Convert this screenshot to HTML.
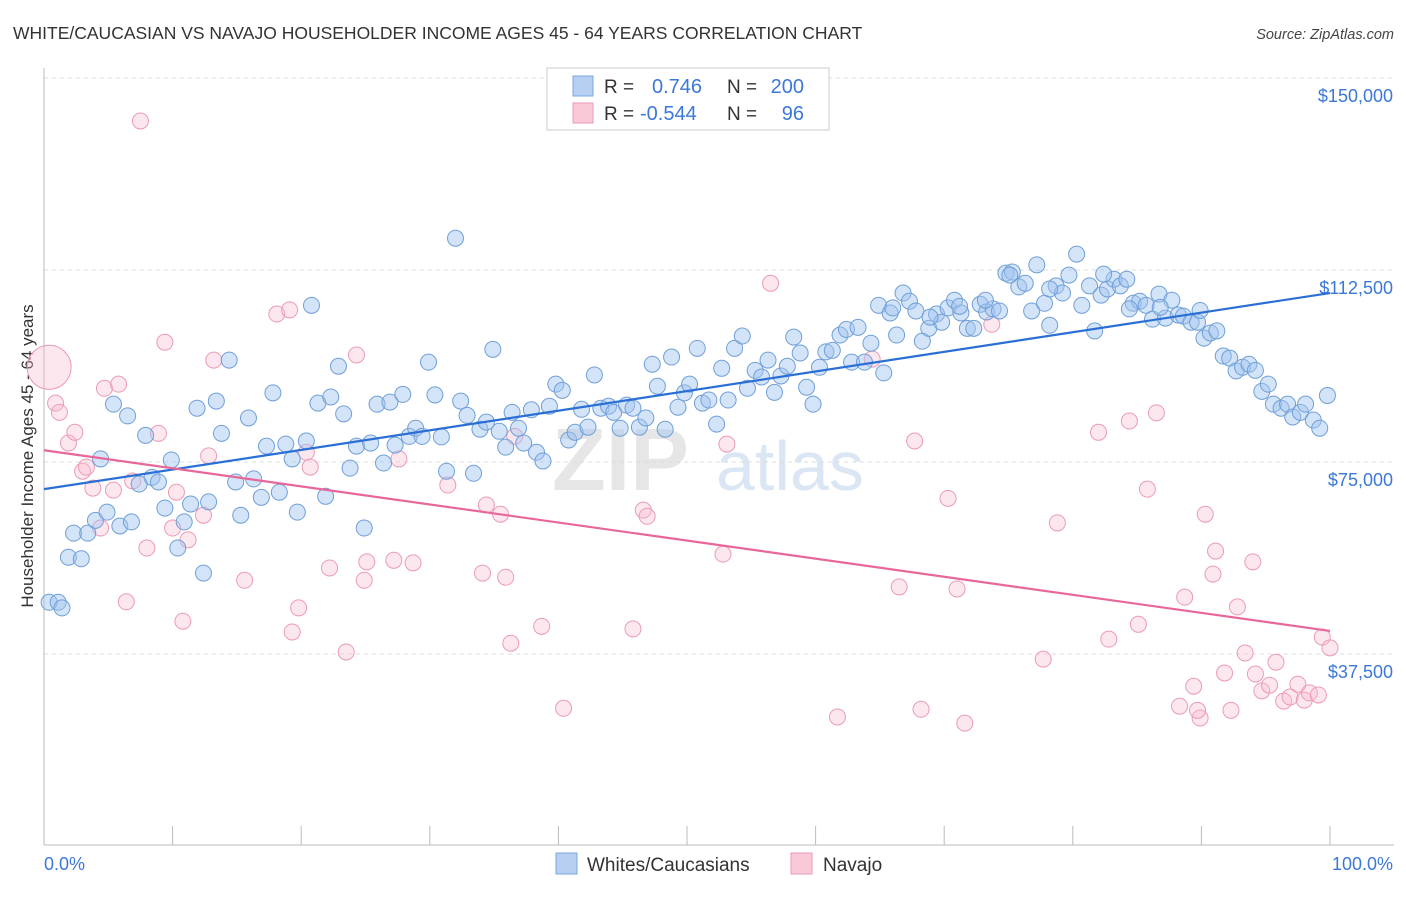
<!DOCTYPE html>
<html><head><meta charset="utf-8">
<style>
body{margin:0;background:#fff;font-family:"Liberation Sans",sans-serif;}
svg text{font-family:"Liberation Sans",sans-serif;}
</style></head>
<body>
<svg id="chart" width="1406" height="892" viewBox="0 0 1406 892" xmlns="http://www.w3.org/2000/svg">
<text x="13" y="39" font-size="17.5" fill="#333">WHITE/CAUCASIAN VS NAVAJO HOUSEHOLDER INCOME AGES 45 - 64 YEARS CORRELATION CHART</text>
<text x="1394" y="39" font-size="14.5" fill="#444" font-style="italic" text-anchor="end">Source: ZipAtlas.com</text>
<text x="552" y="490" font-size="88" fill="#e6e6e6" font-family="Liberation Serif" font-weight="bold">ZIP</text>
<text x="716" y="490" font-size="70" fill="#dbe6f4">atlas</text>
<g id="grid"></g>
<g id="axes"></g>
<text transform="translate(33,456) rotate(-90)" font-size="17" fill="#333" text-anchor="middle">Householder Income Ages 45 - 64 years</text>
<g id="pinkPts"></g>
<g id="bluePts"></g>
<g id="lines"></g>
<g>
<rect x="547" y="68" width="282" height="62" fill="#fff" stroke="#ccc"/>
<rect x="573" y="76" width="20" height="20" fill="#b7d0f2" stroke="#7aa6dc"/>
<rect x="573" y="103" width="20" height="20" fill="#f9c9d8" stroke="#ec9ab8"/>
<text x="604" y="93" font-size="19" fill="#333">R = </text>
<text x="652" y="93" font-size="20" fill="#3b78d8">0.746</text>
<text x="727" y="93" font-size="19" fill="#333">N =</text>
<text x="804" y="93" font-size="20" fill="#3b78d8" text-anchor="end">200</text>
<text x="604" y="120" font-size="19" fill="#333">R =</text>
<text x="640" y="120" font-size="20" fill="#3b78d8">-0.544</text>
<text x="727" y="120" font-size="19" fill="#333">N =</text>
<text x="804" y="120" font-size="20" fill="#3b78d8" text-anchor="end">96</text>
</g>
<g>
<rect x="556" y="853" width="21" height="21" fill="#b7d0f2" stroke="#7aa6dc"/>
<text x="587" y="871" font-size="19" fill="#333">Whites/Caucasians</text>
<rect x="791" y="853" width="21" height="21" fill="#f9c9d8" stroke="#ec9ab8"/>
<text x="823" y="871" font-size="19" fill="#333">Navajo</text>
</g>
</svg>
<script>
const yTicks=[37500,75000,112500,150000];
const yTickLabels=["$37,500","$75,000","$112,500","$150,000"];
const xTicks=[0,10,20,30,40,50,60,70,80,90,100];
const xTickLabels=["0.0%","100.0%"];
const blueX=[0.4,1.1,1.4,1.9,2.3,2.9,3.4,4.0,4.4,4.9,5.4,5.9,6.5,6.8,7.4,7.9,8.4,8.9,9.4,9.9,10.4,10.9,11.4,11.9,12.4,12.8,13.4,13.8,14.4,14.9,15.3,15.9,16.3,16.9,17.3,17.8,18.3,18.8,19.3,19.7,20.4,20.8,21.3,21.9,22.3,22.9,23.3,23.8,24.3,24.9,25.4,25.9,26.4,26.9,27.3,27.9,28.4,28.9,29.4,29.9,30.4,30.9,31.3,32.0,32.4,32.9,33.4,33.9,34.4,34.9,35.4,35.9,36.4,36.9,37.3,37.9,38.3,38.8,39.3,39.8,40.3,40.8,41.3,41.8,42.3,42.8,43.3,43.9,44.3,44.8,45.3,45.8,46.3,46.8,47.3,47.7,48.3,48.8,49.3,49.8,50.2,50.8,51.2,51.7,52.3,52.7,53.2,53.7,54.3,54.7,55.3,55.8,56.3,56.8,57.3,57.8,58.3,58.8,59.3,59.8,60.3,60.8,61.3,61.9,62.4,62.8,63.3,63.8,64.3,64.9,65.3,65.8,66.3,66.8,67.3,67.8,68.3,68.8,69.4,69.8,70.3,70.8,71.3,71.8,72.3,72.8,73.3,73.8,74.3,74.8,75.3,75.8,76.3,76.8,77.2,77.8,78.2,78.7,79.2,79.7,80.3,80.7,81.3,81.7,82.2,82.7,83.2,83.7,84.2,84.7,85.2,85.7,86.2,86.7,87.2,87.7,88.2,88.6,89.2,89.7,90.2,90.7,91.2,91.7,92.2,92.7,93.2,93.7,94.2,94.7,95.2,95.6,96.2,96.7,97.1,97.7,98.1,98.7,99.2,99.8,89.9,86.8,84.4,82.4,78.2,75.1,73.2,71.2,68.9,66.0];
const blueY=[47.6,47.6,46.5,56.4,61.1,56.1,61.1,63.6,75.6,65.2,86.3,62.5,84.0,63.3,70.7,80.2,72.0,71.1,66.0,75.4,58.2,63.3,66.8,85.5,53.3,67.2,86.9,80.6,94.9,71.1,64.6,83.6,71.7,68.1,78.1,88.5,69.1,78.5,75.6,65.2,79.1,105.6,86.5,68.3,87.7,93.7,84.4,73.8,78.1,62.1,78.7,86.3,74.8,86.7,78.3,88.2,80.0,81.6,80.0,94.5,88.1,79.9,73.2,118.7,86.9,84.1,72.8,81.4,82.8,97.0,81.0,77.9,84.7,81.6,78.7,85.2,76.9,75.2,85.9,90.2,89.0,79.3,80.8,85.3,81.8,92.0,85.5,85.9,84.7,81.6,86.1,85.5,81.8,83.6,94.1,89.8,81.4,95.5,85.7,88.5,90.2,97.2,86.5,87.1,82.4,93.3,87.1,97.2,99.6,89.4,92.9,91.6,94.9,88.6,91.8,93.7,99.4,96.3,89.6,86.3,93.5,96.5,96.8,99.8,100.9,94.5,101.3,94.5,98.2,105.6,92.4,104.1,99.8,108.0,106.4,104.5,98.6,101.1,103.9,102.3,105.1,106.6,104.1,101.1,101.1,105.8,104.3,104.9,104.5,111.9,112.1,109.2,109.9,104.5,113.5,106.0,101.7,109.4,108.0,111.5,115.6,105.6,109.4,100.6,107.6,108.8,110.7,109.4,110.7,106.0,106.4,105.6,102.9,107.8,103.1,106.6,103.7,103.5,102.3,102.3,99.2,100.2,100.6,95.7,95.3,92.8,93.5,94.1,92.9,88.8,90.2,86.3,85.5,86.3,83.8,84.7,86.3,83.2,81.6,88.0,104.6,105.2,104.9,111.7,108.8,111.5,106.6,105.4,103.3,105.1];
const pinkX=[0.4,0.9,1.2,1.9,2.4,3.0,3.3,3.8,4.4,4.7,5.4,5.8,6.4,6.9,7.5,8.0,8.9,9.4,10.0,10.3,10.8,11.2,12.4,12.8,13.2,15.6,18.1,19.1,19.3,19.8,20.4,20.7,22.2,23.5,24.3,24.9,25.1,27.2,27.6,28.7,31.4,34.1,34.4,35.5,35.9,36.3,36.6,38.7,40.4,45.8,46.6,46.9,52.8,53.1,56.5,61.7,64.4,66.5,67.7,68.2,70.3,71.0,71.6,73.7,77.7,78.8,82.0,82.8,84.4,85.1,85.8,86.5,88.3,88.7,89.4,89.9,90.3,90.9,91.1,91.8,92.3,92.8,93.4,94.0,94.2,94.7,95.3,95.8,96.4,96.9,97.5,98.0,98.4,99.1,99.4,100.0,89.7];
const pinkY=[93.5,86.5,84.7,78.7,80.8,73.2,74.0,69.9,62.1,89.4,69.5,90.2,47.7,71.3,141.6,58.2,80.6,98.4,62.1,69.1,43.9,59.8,64.6,76.2,94.9,51.9,103.9,104.7,41.8,46.5,76.9,74.0,54.3,37.9,95.9,51.9,55.5,55.8,75.6,55.3,70.5,53.3,66.6,64.8,52.5,39.6,80.0,42.9,26.9,42.4,65.6,64.4,57.0,78.5,109.9,25.2,95.1,50.6,79.1,26.7,67.9,50.2,24.0,101.9,36.5,63.1,80.8,40.4,83.0,43.3,69.7,84.6,27.3,48.6,31.2,25.0,64.8,53.1,57.6,33.8,26.5,46.7,37.7,55.5,33.6,30.3,31.4,35.9,28.3,29.1,31.6,28.5,29.9,29.5,40.8,38.7,26.5];
const blueTrend=[69.7,108.0];
const pinkTrend=[77.3,42.0];

const NS="http://www.w3.org/2000/svg";
const X0=44,X1=1330,Y0=654,PXK=192/37.5;
function sx(p){return X0+(X1-X0)*p/100;}
function sy(k){return Y0-(k-37.5)*PXK;}
function mk(t,a,parent){const e=document.createElementNS(NS,t);for(const k in a)e.setAttribute(k,a[k]);parent.appendChild(e);return e;}
const grid=document.getElementById('grid'),axes=document.getElementById('axes');
yTicks.forEach((v,i)=>{
  const y=sy(v/1000);
  const l=mk('line',{x1:X0,x2:1394,y1:y,y2:y,stroke:'#dcdcdc','stroke-dasharray':'4,4'},grid);
  
  
  const t=mk('text',{x:1393,y:y+24,'font-size':18,fill:'#3b78d8','text-anchor':'end'},axes);
  t.textContent=yTickLabels[i];
  
  
});
const tg=mk('line',{x1:X0,x2:1394,y1:sy(150),y2:sy(150),stroke:'#dcdcdc','stroke-dasharray':'4,4'},grid);


const ya=mk('line',{x1:X0,x2:X0,y1:68,y2:845,stroke:'#bbb'},axes);


const xa=mk('line',{x1:X0,x2:1394,y1:845,y2:845,stroke:'#bbb'},axes);


xTicks.forEach(p=>{
  const l=mk('line',{x1:sx(p),x2:sx(p),y1:826,y2:845,stroke:'#bbb'},axes);
  
  
});
const xl0=mk('text',{x:44,y:870,'font-size':18,fill:'#3b78d8'},axes);xl0.textContent=xTickLabels[0];


const xl1=mk('text',{x:1393,y:870,'font-size':18,fill:'#3b78d8','text-anchor':'end'},axes);xl1.textContent=xTickLabels[1];


const pg=document.getElementById('pinkPts');
pinkX.forEach((p,i)=>{
  const c=mk('circle',{cx:sx(p),cy:sy(pinkY[i]),r:i===0?22:8,fill:'rgba(248,186,206,0.35)',stroke:'#eb9ab7','stroke-width':1},pg);
  
  
});
const bg=document.getElementById('bluePts');
blueX.forEach((p,i)=>{
  const c=mk('circle',{cx:sx(p),cy:sy(blueY[i]),r:8,fill:'rgba(160,196,240,0.45)',stroke:'#6f9fd8','stroke-width':1},bg);
  
  
});
const lg=document.getElementById('lines');
const bl=mk('line',{x1:sx(0),y1:sy(blueTrend[0]),x2:sx(100),y2:sy(blueTrend[1]),stroke:'#2a6fd6','stroke-width':2.2},lg);


const pl=mk('line',{x1:sx(0),y1:sy(pinkTrend[0]),x2:sx(100),y2:sy(pinkTrend[1]),stroke:'#e8679a','stroke-width':2.2},lg);


</script>
</body></html>
